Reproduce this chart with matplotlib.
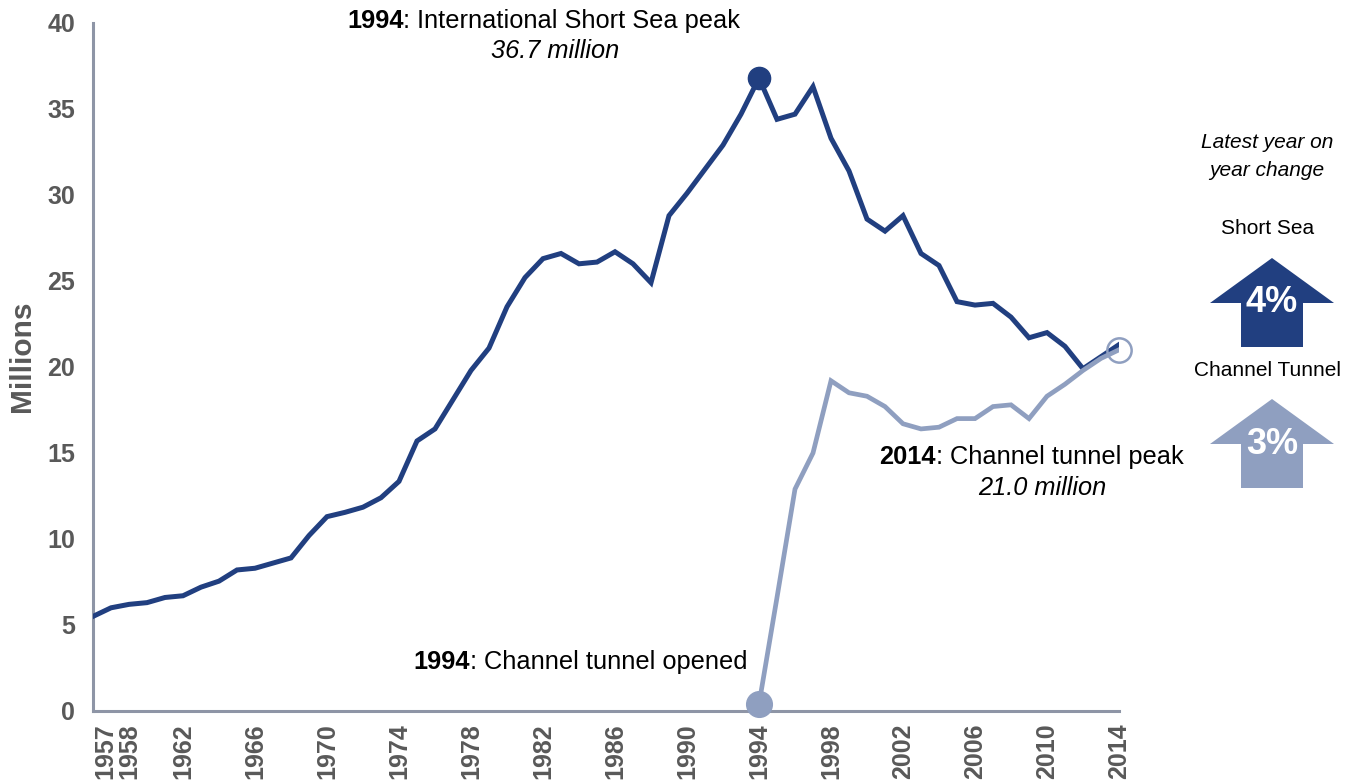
import matplotlib.pyplot as plt
from matplotlib.patches import Polygon
from matplotlib.transforms import ScaledTranslation

# Data (millions of passengers)
years = list(range(1957, 2015))
short_sea = [5.5, 6.0, 6.2, 6.3, 6.6, 6.7, 7.2, 7.55, 8.2, 8.3,
             8.6, 8.9, 10.2, 11.3, 11.55, 11.85, 12.4, 13.35, 15.7, 16.4,
             18.1, 19.8, 21.1, 23.5, 25.2, 26.3, 26.6, 26.0, 26.1, 26.7,
             26.0, 24.9, 28.8, 30.1, 31.5, 32.9, 34.7, 36.8, 34.4, 34.7,
             36.3, 33.3, 31.4, 28.6, 27.9, 28.8, 26.6, 25.9, 23.8, 23.6,
             23.7, 22.9, 21.7, 22.0, 21.2, 19.9, 20.6, 21.3]
tunnel_years = list(range(1994, 2015))
tunnel = [0.4, 6.6, 12.9, 15.0, 19.2, 18.5, 18.3, 17.7, 16.7, 16.4,
          16.5, 17.0, 17.0, 17.7, 17.8, 17.0, 18.3, 19.0, 19.8, 20.5,
          21.0]
tick_years = [1957, 1958, 1962, 1966, 1970, 1974, 1978, 1982, 1986, 1990,
              1994, 1998, 2002, 2006, 2010, 2014]
change_labels = ["Short Sea", "Channel Tunnel"]
change_values = ["4%", "3%"]

DARK = "#213f80"
LIGHT = "#8f9fc0"
AXIS = "#8e95a6"
GREY = "#595959"

plt.rcParams['font.family'] = ['Liberation Sans', 'DejaVu Sans']

W, H = 1355, 780
fig = plt.figure(figsize=(W / 100, H / 100), dpi=100)


def fx(px):
    return px / W


def fy(py):
    return 1 - py / H


ax = fig.add_axes([fx(93), fy(711), (1119 - 93) / W, (711 - 23) / H])
ax.set_xlim(1957, 2014)
ax.set_ylim(0, 40)

ax.plot(years, short_sea, color=DARK, lw=3.6, solid_joinstyle='miter', zorder=3)
ax.plot(tunnel_years, tunnel, color=LIGHT, lw=3.4, solid_joinstyle='miter', zorder=4)

# markers
peak_i = short_sea.index(max(short_sea))
ax.plot(years[peak_i], short_sea[peak_i], 'o', color=DARK, ms=16, zorder=5, clip_on=False)
ax.plot(tunnel_years[0], tunnel[0], 'o', color=LIGHT, ms=18.5, zorder=5, clip_on=False)
ax.plot(tunnel_years[-1], tunnel[-1], 'o', mfc='none', mec=LIGHT, mew=1.8, ms=17.5,
        zorder=6, clip_on=False)

for s in ['top', 'right']:
    ax.spines[s].set_visible(False)
for s in ['left', 'bottom']:
    ax.spines[s].set_color(AXIS)
    ax.spines[s].set_linewidth(2.2)

ax.set_yticks(range(0, 41, 5))
ax.set_xticks(tick_years)
ax.set_xticklabels([str(y) for y in tick_years], rotation=90)
ax.tick_params(axis='both', length=0, labelcolor=GREY, labelsize=18)
ax.tick_params(axis='y', pad=13)
ax.tick_params(axis='x', pad=9)
for lab in ax.get_yticklabels() + ax.get_xticklabels():
    lab.set_fontweight('bold')
# nudge the two crowded first labels apart like the original
xl = ax.get_xticklabels()
xl[0].set_transform(xl[0].get_transform() + ScaledTranslation(12 / 100, 0, fig.dpi_scale_trans))
xl[1].set_transform(xl[1].get_transform() + ScaledTranslation(18 / 100, 0, fig.dpi_scale_trans))

fig.text(fx(22), fy(356), "Millions", rotation=90, ha='center', va='center',
         fontsize=21.5, fontweight='bold', color=GREY)


def two_part(x, y, bold, rest, size=18.3):
    t = fig.text(fx(x), fy(y), bold, fontsize=size, fontweight='bold',
                 ha='left', va='center')
    fig.canvas.draw()
    ax.annotate(rest, xy=(1, 0), xycoords=t, va='bottom', ha='left',
                fontsize=size, annotation_clip=False)


two_part(347, 21, "1994", ": International Short Sea peak")
fig.text(fx(555), fy(51), "36.7 million", fontsize=18.3, style='italic',
         ha='center', va='center')
two_part(413, 662, "1994", ": Channel tunnel opened")
two_part(879, 457, "2014", ": Channel tunnel peak")
fig.text(fx(1042), fy(488), "21.0 million", fontsize=18.3, style='italic',
         ha='center', va='center')

# right-hand panel
fig.text(fx(1267), fy(143), "Latest year on", fontsize=15, style='italic',
         ha='center', va='center')
fig.text(fx(1267), fy(170), "year change", fontsize=15, style='italic',
         ha='center', va='center')

ov = fig.add_axes([0, 0, 1, 1], zorder=-1)
ov.set_xlim(0, W)
ov.set_ylim(H, 0)
ov.axis('off')

arrow_tops = [258, 399]
for label, val, top, col in zip(change_labels, change_values, arrow_tops, [DARK, LIGHT]):
    cx = 1272
    base = top + 45
    bottom = top + 89
    pts = [(cx, top), (cx + 62, base), (cx + 31, base), (cx + 31, bottom),
           (cx - 31, bottom), (cx - 31, base), (cx - 62, base)]
    ov.add_patch(Polygon(pts, closed=True, color=col, lw=0))
    ov.text(cx, top + 45, val, color='white', fontsize=26, fontweight='bold',
            ha='center', va='center')
    ov.text(1268, top - 29, label, fontsize=15, ha='center', va='center')

fig.savefig("out.png", dpi=100)
